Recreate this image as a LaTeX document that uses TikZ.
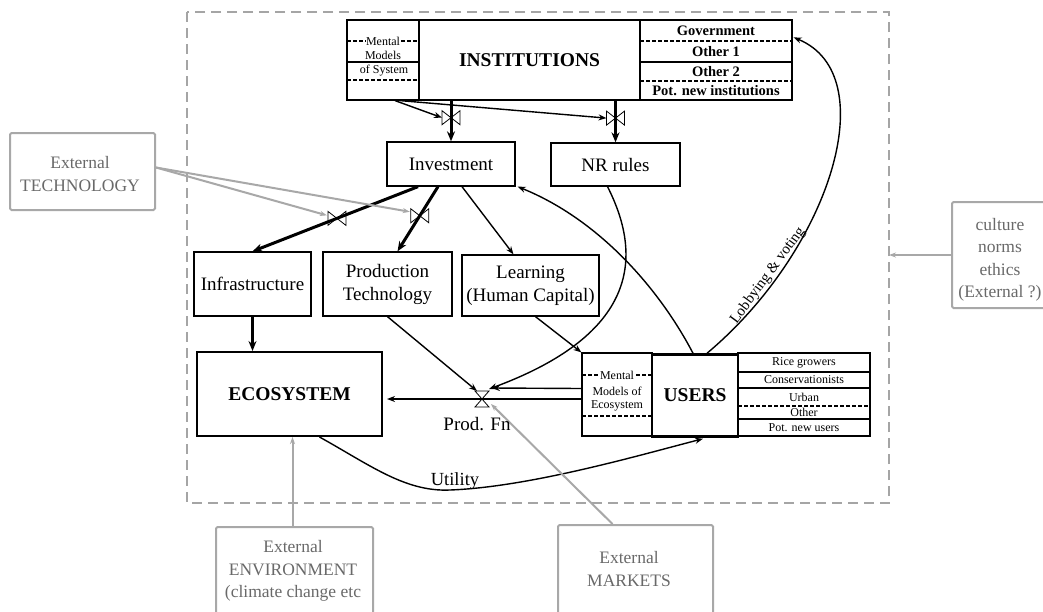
\documentclass[tikz,border=0pt]{standalone}
\usepackage{fontspec}
\setmainfont{Liberation Serif}
\usetikzlibrary{arrows.meta,calc}
\definecolor{extgray}{RGB}{168,168,168}
\definecolor{exttext}{RGB}{105,105,105}
\definecolor{dashgray}{RGB}{165,165,165}
\begin{document}
\begin{tikzpicture}[x=1pt,y=-1pt,
  box/.style={draw, line width=1.3pt, inner sep=0pt, align=center, font=\fontsize{19}{23}\selectfont},
  bigbox/.style={draw, inner sep=0pt, align=center, font=\fontsize{19.5}{22}\selectfont\bfseries},
  subbox/.style={draw, line width=1.2pt, inner sep=0pt},
  rowI/.style={inner sep=0pt, font=\fontsize{14.5}{16}\selectfont\bfseries},
  rowU/.style={inner sep=0pt, font=\fontsize{12}{13}\selectfont},
  mm/.style={inner sep=0.5pt, font=\fontsize{12}{13}\selectfont},
  extbox/.style={draw=extgray, line width=2pt, rounded corners=1.5pt, inner sep=0pt},
  exttxt/.style={align=center, text=exttext, inner sep=0pt, font=\fontsize{17.5}{22.5}\selectfont},
  arr/.style={-{Stealth[length=8pt,width=6pt]}, line width=1.4pt},
  thk/.style={-{Stealth[length=10pt,width=8pt]}, line width=3pt},
  garr/.style={-{Stealth[length=7pt,width=5pt]}, line width=2pt, draw=extgray, fill=extgray},
  valvest/.style={draw, line width=0.8pt, fill=white}
]
\useasboundingbox (0,0) rectangle (1043,611);
\clip (0,0) rectangle (1043,611);
\fill[white] (0,0) rectangle (1043,611);

% outer dashed frame
\draw[dashgray, line width=2pt, dash pattern=on 10pt off 6pt] (187,12) rectangle (889,503);
\coordinate (frameR) at (889,255);

% ---------- INSTITUTIONS ----------
\node[subbox, minimum width=72pt, minimum height=80pt] (instL) at (383,60) {};
\node[subbox, minimum width=152pt, minimum height=80pt] (instR) at (716,60) {};
\node[bigbox, line width=2.5pt, minimum width=221pt, minimum height=80pt] (instM) at (529.5,60) {INSTITUTIONS};
\draw[line width=1.3pt, dash pattern=on 4pt off 2pt] (640,41) -- (792,41);
\draw[line width=1.8pt] (640,62) -- (792,62);
\draw[line width=1.2pt, dash pattern=on 4pt off 2pt] (640,81) -- (792,81);
\node[rowI] (gov) at (716,30.5) {Government};
\node[rowI] (oth1) at (716,51.5) {Other 1};
\node[rowI] (oth2) at (716,71.5) {Other 2};
\node[rowI] (potI) at (716,90.5) {Pot. new institutions};
\draw[line width=1.2pt, dash pattern=on 4pt off 2pt] (347,41) -- (418,41);
\draw[line width=1.8pt] (347,62) -- (418,62);
\draw[line width=1.2pt, dash pattern=on 4pt off 2pt] (347,80) -- (418,80);
\node[mm, fill=white] (mmI1) at (383,41) {Mental};
\node[mm] (mmI2) at (383,55) {Models};
\node[mm] (mmI3) at (384,71) {of System};

% ---------- middle boxes ----------
\node[box, minimum width=128pt, minimum height=44pt] (inv) at (451,164) {Investment};
\node[box, minimum width=129pt, minimum height=43pt] (nr) at (615.5,164.5) {NR rules};
\node[box, minimum width=117pt, minimum height=64pt] (infra) at (252.5,284) {Infrastructure};
\node[box, minimum width=129pt, minimum height=64pt] (prod) at (387.5,284) {Production\\Technology};
\node[box, minimum width=137pt, minimum height=61pt] (learn) at (530.5,285.5) {Learning\\(Human Capital)};

% ---------- ECOSYSTEM ----------
\node[bigbox, line width=2pt, minimum width=185pt, minimum height=84pt] (eco) at (289.5,394) {ECOSYSTEM};

% ---------- USERS ----------
\node[subbox, minimum width=70pt, minimum height=83pt] (usrL) at (617,394.5) {};
\node[subbox, minimum width=132pt, minimum height=83pt] (usrR) at (804,394.5) {};
\node[bigbox, line width=2.5pt, minimum width=86pt, minimum height=82pt] (usr) at (695,395.5) {USERS};
\draw[line width=1.8pt] (738,372) -- (870,372);
\draw[line width=1.8pt] (738,388) -- (870,388);
\draw[line width=1.2pt, dash pattern=on 4pt off 2pt] (738,406) -- (870,406);
\draw[line width=1.8pt] (738,419) -- (870,419);
\node[rowU] (rice) at (804,363) {Rice growers};
\node[rowU] (cons) at (804,380) {Conservationists};
\node[rowU] (urb) at (804,397) {Urban};
\node[rowU] (oth) at (804,412.5) {Other};
\node[rowU] (potU) at (804,427.5) {Pot. new users};
\draw[line width=1.2pt, dash pattern=on 4pt off 2pt] (582,375) -- (652,375);
\draw[line width=1.2pt, dash pattern=on 4pt off 2pt] (582,416) -- (652,416);
\node[mm, fill=white] (mmU1) at (617,375) {Mental};
\node[mm] (mmU2) at (617,391) {Models of};
\node[mm] (mmU3) at (617,406) {Ecosystem};

% ---------- external boxes ----------
\node[extbox, minimum width=145pt, minimum height=77pt] (tech) at (82.5,171.5) {};
\node[exttxt] (techT) at (80,174) {External\\TECHNOLOGY};
\node[extbox, minimum width=157pt, minimum height=112pt] (env) at (294.5,583) {};
\node[exttxt] (envT) at (293,571) {External\\ENVIRONMENT\\(climate change etc};
\node[extbox, minimum width=155pt, minimum height=115pt] (mkt) at (635.5,582.5) {};
\node[exttxt] (mktT) at (629,569) {External\\MARKETS};
\node[extbox, minimum width=98pt, minimum height=106pt] (cult) at (1001,255) {};
\node[exttxt] (cultT) at (1000,260) {culture\\norms\\ethics\\(External ?)};

% ---------- coordinates ----------
\coordinate (iTop) at (instM.south -| inv.north);
\coordinate (nTop) at (instM.south -| nr.north);
\coordinate (v1) at ($(iTop)!0.41!(inv.north)$);
\coordinate (v2) at ($(nTop)!0.41!(nr.north)$);
\coordinate (s3) at ($(inv.south)+(-33,0)$);
\coordinate (e3) at (infra.north);
\coordinate (v3) at ($(s3)!0.49!(e3)$);
\coordinate (s4) at ($(inv.south)+(-13,0)$);
\coordinate (e4) at ($(prod.north)+(10,0)$);
\coordinate (v4) at ($(s4)!0.45!(e4)$);
\coordinate (v5) at (482,399);
\coordinate (flowS) at (usrL.west |- v5);
\coordinate (flowE) at ($(eco.east |- v5)+(4,0)$);

% ---------- valves ----------
\draw[valvest, shift={(v1)}] (-9,-7) -- (-9,7) -- (0,0) -- cycle (9,-7) -- (9,7) -- (0,0) -- cycle;
\draw[valvest, shift={(v2)}] (-9,-7) -- (-9,7) -- (0,0) -- cycle (9,-7) -- (9,7) -- (0,0) -- cycle;
\draw[valvest, shift={(v3)}] (-9,-7) -- (-9,7) -- (0,0) -- cycle (9,-7) -- (9,7) -- (0,0) -- cycle;
\draw[valvest, shift={(v4)}] (-9,-7) -- (-9,7) -- (0,0) -- cycle (9,-7) -- (9,7) -- (0,0) -- cycle;
\draw[valvest, shift={(v5)}] (-7,-8) -- (7,-8) -- (0,0) -- cycle (-7,8) -- (7,8) -- (0,0) -- cycle;

% ---------- connectors ----------
\draw[thk] (iTop) -- (inv.north);
\draw[thk] (nTop) -- (nr.north);
\draw[arr] ($(instL.south)+(12,0)$) -- ($(v1)+(-9,0)$);
\draw[arr] ($(instL.south)+(17,0)$) -- ($(v2)+(-9,0)$);
\draw[thk] (s3) -- (e3);
\draw[thk] (s4) -- (e4);
\draw[arr] ($(inv.south)+(11,0)$) -- ($(learn.north)+(-17,0)$);
\draw[thk] (infra.south) -- (infra.south |- eco.north);
\draw[arr] (prod.south) -- ($(v5)+(-5,-8)$);
\draw[arr] ($(learn.south)+(5,0)$) -- (usrL.north west);
\draw[arr] ($(nr.south)+(-8,0)$) .. controls (650,270) and (622,340) .. ($(v5)+(7,-10)$);
\draw[arr] ($(usrL.west)+(0,-6)$) -- ($(v5)+(10,-11)$);
\draw[arr] (flowS) -- (flowE);
\draw[arr] ($(usr.north)+(-2,0)$) .. controls (660,290) and (600,220) .. ($(inv.south east)+(2,0)$);
\draw[arr] ($(usr.north)+(12,0)$) .. controls (830,250) and (885,75) .. ($(instR.north east)+(1,18)$)
  node[pos=0.21, sloped, above=1pt, inner sep=0pt, font=\fontsize{15}{16}\selectfont] (lob) {Lobbying \& voting};
\draw[arr] ($(eco.south)+(30,0)$) .. controls (370,465) and (405,492) .. (450,490)
  .. controls (530,487) and (640,455) .. ($(usr.south)+(8,1)$);
\node[inner sep=0pt, font=\fontsize{18.5}{20}\selectfont] (util) at (455,481) {Utility};

% gray external connectors
\draw[garr] ($(tech.east)+(0,-4)$) -- ($(v3)+(-10,-3)$);
\draw[garr] ($(tech.east)+(0,-4)$) -- ($(v4)+(-10,-4)$);
\draw[garr] ($(env.north)+(-2,0)$) -- ($(eco.south)+(3,0)$);
\draw[garr] ($(mkt.north)+(-23,0)$) -- ($(v5)+(9,5)$);
\draw[garr] (cult.west) -- (cult.west -| frameR);
\node[inner sep=0pt, font=\fontsize{19}{20}\selectfont] (pfn) at (477,424) {Prod. Fn};
\end{tikzpicture}
\end{document}
